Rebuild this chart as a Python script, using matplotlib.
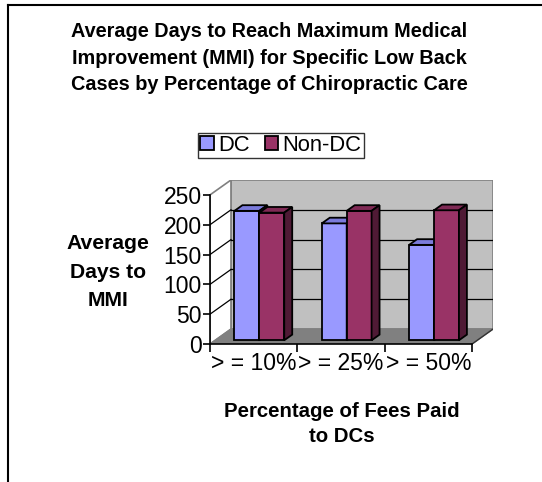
import numpy as np
import matplotlib.pyplot as plt
from matplotlib.patches import Polygon, Patch

plt.rcParams['font.family'] = ['Liberation Sans', 'DejaVu Sans']

categories = ['> = 10%', '> = 25%', '> = 50%']
dc_days = [217, 196, 160]
nondc_days = [214, 217, 218]
yticks = [0, 50, 100, 150, 200, 250]

W, H = 542, 482
fig = plt.figure(figsize=(W / 100, H / 100), dpi=100)

# pseudo-3d depth offset of the back wall, in data units
DX, DY = 0.24, 25
YMAX = 250
n = len(categories)

ax = fig.add_axes([210 / W, (H - 344) / H, (493 - 210) / W, (344 - 180) / H])
ax.set_xlim(0, n + DX)
ax.set_ylim(0, YMAX + DY)
ax.patch.set_alpha(0)

# walls and floor
ax.add_patch(Polygon([(DX, DY), (n + DX, DY), (n + DX, YMAX + DY), (DX, YMAX + DY)],
                     closed=True, fc='#C0C0C0', ec='#808080', lw=1.2, zorder=1))
ax.add_patch(Polygon([(0, 0), (DX, DY), (DX, YMAX + DY), (0, YMAX)],
                     closed=True, fc='white', ec='#808080', lw=1.2, zorder=1))
ax.add_patch(Polygon([(0, 0), (n, 0), (n + DX, DY), (DX, DY)],
                     closed=True, fc='#808080', ec='#808080', lw=1.0, zorder=1))
ax.plot([n, n + DX], [0, DY], color='#333333', lw=1.0, zorder=2)
for v in yticks[1:-1]:
    ax.plot([DX, n + DX], [v + DY, v + DY], color='black', lw=0.9, zorder=2)
    ax.plot([0, DX], [v, v + DY], color='black', lw=0.9, zorder=2)

# bars
f0, f1 = 0.25, 0.63
a, b = f0 * DX, f0 * DY
c, d = f1 * DX, f1 * DY
bw = 0.285
start = 0.22


def bar3d(x0, v, front, top, side):
    x1 = x0 + bw
    kw = dict(closed=True, ec='black', lw=1.3, zorder=3, joinstyle='miter')
    ax.add_patch(Polygon([(x0 + a, b), (x1 + a, b), (x1 + a, v + b), (x0 + a, v + b)], fc=front, **kw))
    ax.add_patch(Polygon([(x0 + a, v + b), (x1 + a, v + b), (x1 + c, v + d), (x0 + c, v + d)], fc=top, **kw))
    ax.add_patch(Polygon([(x1 + a, b), (x1 + c, d), (x1 + c, v + d), (x1 + a, v + b)], fc=side, **kw))


for i in range(n):
    bar3d(i + start, dc_days[i], '#9999FF', '#7B7BDB', '#4D4D99')
    bar3d(i + start + bw, nondc_days[i], '#993366', '#7F2A55', '#4F1A35')

# axes, ticks, labels
for s in ['top', 'right']:
    ax.spines[s].set_visible(False)
ax.spines['left'].set_bounds(0, YMAX)
ax.spines['bottom'].set_bounds(0, n)
ax.spines['left'].set_linewidth(1.2)
ax.spines['bottom'].set_linewidth(1.2)
ax.spines['left'].set_zorder(4)
ax.spines['bottom'].set_zorder(4)
ax.set_yticks(yticks)
ax.set_yticklabels([str(v) for v in yticks], fontsize=16.5)
ax.tick_params(axis='y', direction='out', length=5, width=1.2, pad=1)
ax.set_xticks(range(n + 1))
ax.set_xticklabels([])
ax.set_xticks([i + 0.5 for i in range(n)], minor=True)
ax.set_xticklabels(categories, minor=True, fontsize=16.5)
ax.tick_params(axis='x', which='major', direction='out', length=6, width=1.2)
ax.tick_params(axis='x', which='minor', length=0, pad=6)

fig.text(269.5 / W, 1 - 58 / H,
         'Average Days to Reach Maximum Medical\nImprovement (MMI) for Specific Low Back\nCases by Percentage of Chiropractic Care',
         ha='center', va='center', fontsize=14.3, fontweight='bold', linespacing=1.53)
fig.text(108 / W, 1 - 272 / H, 'Average\nDays to\nMMI', ha='center', va='center',
         fontsize=15.2, fontweight='bold', linespacing=1.62)
fig.text(342 / W, 1 - 424 / H, 'Percentage of Fees Paid\nto DCs', ha='center', va='center',
         fontsize=14.7, fontweight='bold', linespacing=1.45)

handles = [Patch(fc='#9999FF', ec='black', lw=1.3, label='DC'),
           Patch(fc='#993366', ec='black', lw=1.3, label='Non-DC')]
leg = fig.legend(handles=handles, loc='center', bbox_to_anchor=(281 / W, 1 - 145.5 / H),
                 ncol=2, fontsize=15.8, frameon=True, fancybox=False, edgecolor='black',
                 handlelength=0.6, handleheight=0.6, handletextpad=0.2, columnspacing=0.7,
                 borderpad=0.1, borderaxespad=0)
leg.get_frame().set_linewidth(1.0)

# chart area border
fig.add_artist(plt.Line2D([8 / W, 1], [1 - 5 / H, 1 - 5 / H], color='black', lw=1.5))
fig.add_artist(plt.Line2D([8 / W, 8 / W], [0, 1 - 5 / H], color='black', lw=1.5))

fig.savefig('out.png', dpi=100)
